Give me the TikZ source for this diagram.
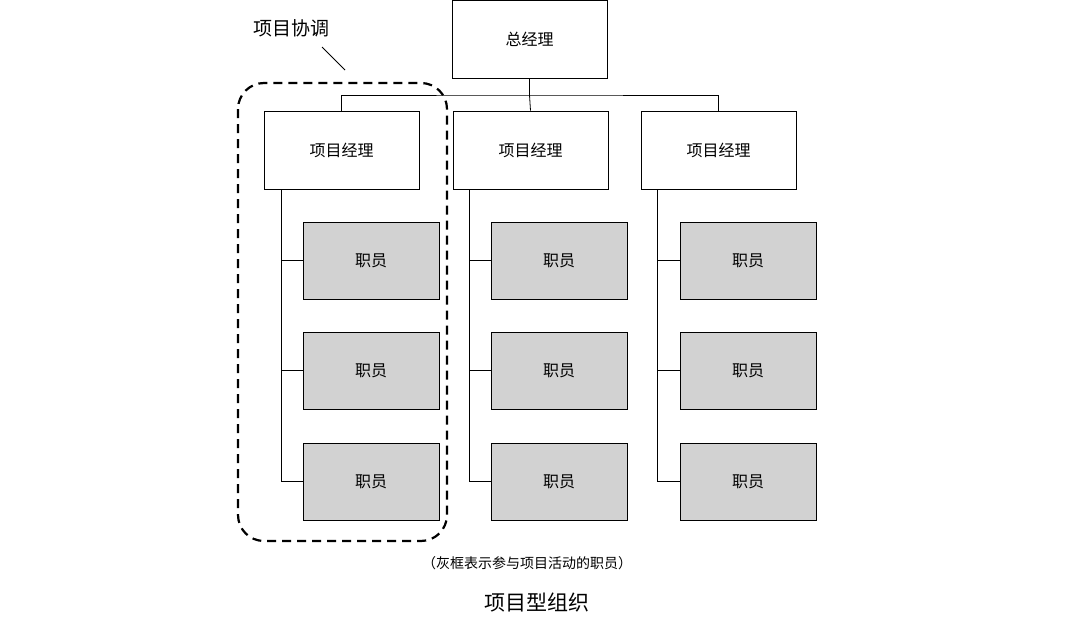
\documentclass[tikz,border=0pt]{standalone}
\usepackage{fontspec}
\setmainfont{Noto Sans CJK SC}
\begin{document}
\begin{tikzpicture}[x=1pt,y=-1pt,
 box/.style={draw,line width=0.8pt,minimum width=155pt,minimum height=78pt,font=\fontsize{16}{18}\selectfont,inner sep=0pt},
 staff/.style={draw,line width=0.8pt,fill=gray!35,minimum width=136pt,minimum height=77pt,font=\fontsize{16}{18}\selectfont,inner sep=0pt},
 ln/.style={line width=0.8pt}]
\useasboundingbox (0,0) rectangle (1080,632);
\node[box] (gm) at (529.5,39) {总经理};
\foreach \i/\px/\sx/\lx in {1/341.5/371/281, 2/530.5/559/469, 3/718.5/748/657}{
  \node[box] (pm\i) at (\px,150) {项目经理};
  \node[staff] (s\i a) at (\sx,260.5) {职员};
  \node[staff] (s\i b) at (\sx,370.5) {职员};
  \node[staff] (s\i c) at (\sx,481.5) {职员};
  \coordinate (t\i) at (\lx,189);
  \draw[ln] (t\i) |- (s\i c.west);
  \draw[ln] (t\i |- s\i a.west) -- (s\i a.west);
  \draw[ln] (t\i |- s\i b.west) -- (s\i b.west);
}
\coordinate (bus) at (529.5,95);
\draw[ln] (gm.south) -- (bus);
\draw[ln] (pm1.north) |- (bus) -| (pm3.north);
\draw[ln] (bus) -- (pm2.north);
\draw[line width=2.2pt,dash pattern=on 9pt off 6pt,rounded corners=26pt] (238,83) rectangle (447,541);
\node[font=\fontsize{19}{21}\selectfont] (lab) at (291,28) {项目协调};
\coordinate (le) at (345,70);
\draw[ln] (322,47) -- (le);
\node[font=\fontsize{14}{16}\selectfont] (cap) at (527,563) {（灰框表示参与项目活动的职员）};
\node[font=\fontsize{21}{24}\selectfont] (title) at (537,603) {项目型组织};
\end{tikzpicture}
\end{document}
